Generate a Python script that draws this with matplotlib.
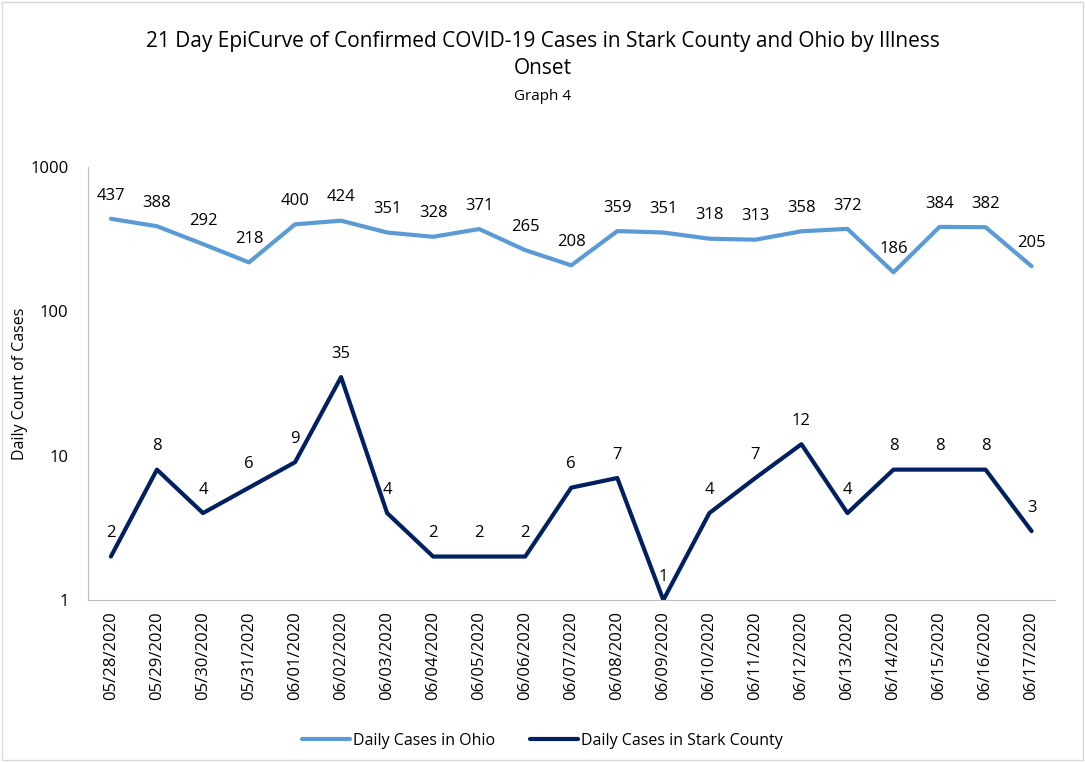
import matplotlib.pyplot as plt
from matplotlib.patches import Rectangle

dates = ['05/28/2020', '05/29/2020', '05/30/2020', '05/31/2020', '06/01/2020',
         '06/02/2020', '06/03/2020', '06/04/2020', '06/05/2020', '06/06/2020',
         '06/07/2020', '06/08/2020', '06/09/2020', '06/10/2020', '06/11/2020',
         '06/12/2020', '06/13/2020', '06/14/2020', '06/15/2020', '06/16/2020',
         '06/17/2020']
ohio = [437, 388, 292, 218, 400, 424, 351, 328, 371, 265, 208,
        359, 351, 318, 313, 358, 372, 186, 384, 382, 205]
stark = [2, 8, 4, 6, 9, 35, 4, 2, 2, 2, 6, 7, 1, 4, 7, 12, 4, 8, 8, 8, 3]

plt.rcParams['font.family'] = ['Open Sans', 'DejaVu Sans']

ohio_color = '#5B9BD5'
stark_color = '#002060'

fig = plt.figure(figsize=(10.85, 7.62), dpi=100)
ax = fig.add_axes([0.081, 0.2126, 0.891, 0.5684])

x = list(range(len(dates)))
ax.plot(x, ohio, color=ohio_color, lw=3, label='Daily Cases in Ohio', solid_capstyle='round')
ax.plot(x, stark, color=stark_color, lw=3, label='Daily Cases in Stark County', solid_capstyle='round')

for xi, v in zip(x, ohio):
    ax.annotate(str(v), (xi, v), xytext=(0, 11), textcoords='offset points',
                ha='center', va='bottom', fontsize=12, color='#000000')
for xi, v in zip(x, stark):
    ax.annotate(str(v), (xi, v), xytext=(0, 11), textcoords='offset points',
                ha='center', va='bottom', fontsize=12, color='#000000')

ax.set_yscale('log')
ax.set_ylim(1, 1000)
ax.set_xlim(-0.5, len(dates) - 0.5)
ax.set_yticks([1, 10, 100, 1000])
ax.set_yticklabels(['1', '10', '100', '1000'])
ax.minorticks_off()
ax.set_xticks(x)
ax.set_xticklabels(dates, rotation=90)
ax.tick_params(length=0, labelsize=12, pad=8)
ax.tick_params(axis='y', pad=14)
for s in ['top', 'right']:
    ax.spines[s].set_visible(False)
for s in ['left', 'bottom']:
    ax.spines[s].set_color('#BFBFBF')
ax.set_ylabel('Daily Count of Cases', fontsize=11.5)
ax.yaxis.set_label_coords(-0.062, 0.5)

fig.text(0.5, 0.945, '21 Day EpiCurve of Confirmed COVID-19 Cases in Stark County and Ohio by Illness',
         ha='center', va='center', fontsize=15)
fig.text(0.5, 0.910, 'Onset', ha='center', va='center', fontsize=15)
fig.text(0.5, 0.874, 'Graph 4', ha='center', va='center', fontsize=11)

fig.legend(loc='center', bbox_to_anchor=(0.5, 0.028), ncol=2, frameon=False,
           fontsize=11.5, handlelength=3, handletextpad=0.2, columnspacing=2.2)

fig.patches.append(Rectangle((0.002, 0.003), 0.996, 0.994, transform=fig.transFigure,
                             fill=False, edgecolor='#D9D9D9', lw=1))

fig.savefig('out.png', dpi=100)
